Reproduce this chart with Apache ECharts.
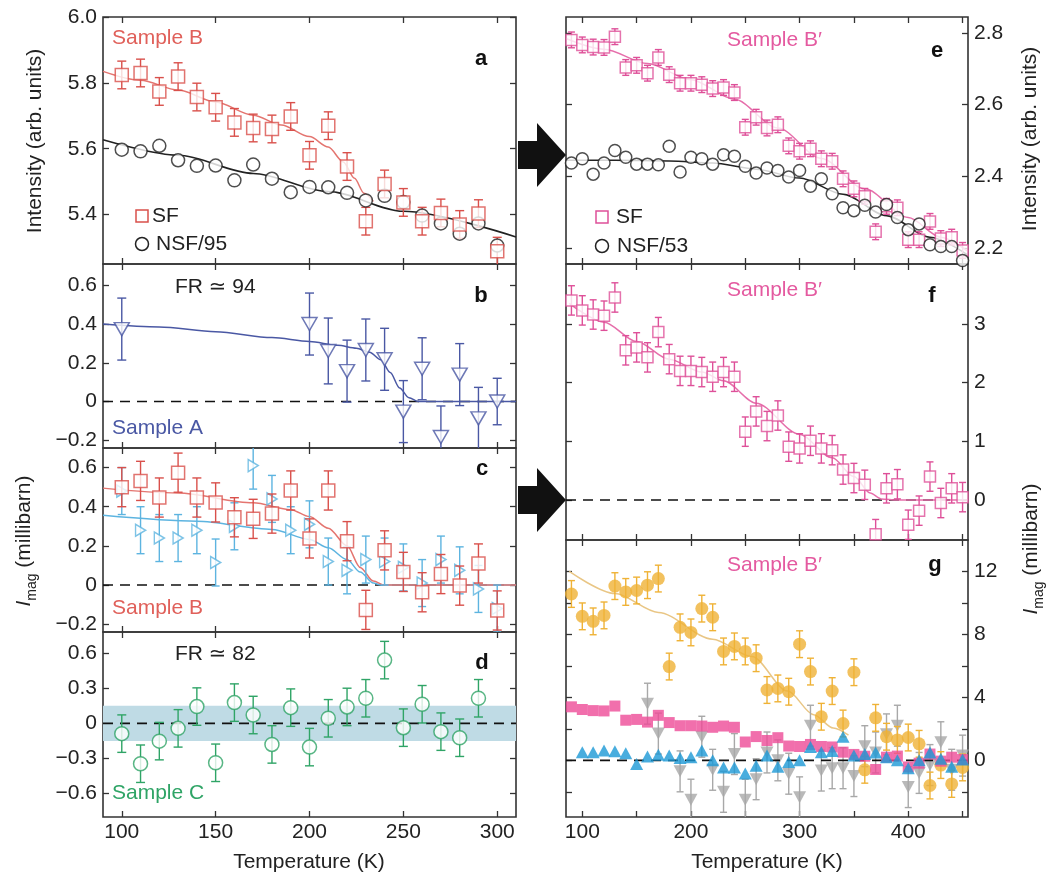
<!DOCTYPE html>
<html><head><meta charset="utf-8">
<script src="https://cdn.jsdelivr.net/npm/echarts@6/dist/echarts.min.js"></script>
<style>html,body{margin:0;padding:0;background:#fff}#c{width:1063px;height:877px}</style>
</head><body><div id="c"></div>
<script>
const FONT = '"Liberation Sans", "DejaVu Sans", Arial, sans-serif';

// ---------------- data ----------------
const leftT = [100,110,120,130,140,150,160,170,180,190,200,210,220,230,240,250,260,270,280,290,300];
const aSF  = [5.824,5.83,5.774,5.819,5.757,5.726,5.68,5.663,5.66,5.698,5.58,5.67,5.546,5.38,5.493,5.437,5.38,5.405,5.37,5.403,5.289];
const aNSF = [5.597,5.592,5.609,5.565,5.548,5.549,5.504,5.552,5.509,5.468,5.484,5.483,5.466,5.443,5.457,5.438,5.397,5.373,5.342,5.373,5.306];
const aSFfitT = [90,110,130,150,170,185,200,210,218,224,229,234];
const aSFfit  = [5.835,5.808,5.778,5.742,5.702,5.672,5.637,5.605,5.56,5.51,5.465,5.44];
const aNSFfitT = [90,130,170,210,250,310];
const aNSFfit  = [5.627,5.58,5.525,5.47,5.41,5.332];

const bT = [100,200,210,220,230,240,250,260,270,280,290,300];
const bA = [0.374,0.40,0.261,0.157,0.266,0.218,-0.052,0.169,-0.183,0.139,-0.087,0.0];
const bErr = [0.16,0.16,0.17,0.16,0.16,0.16,0.16,0.16,0.16,0.16,0.16,0.12];
const bFitT = [90,120,150,180,200,215,225,232,238,243,248,253,258,310];
const bFit  = [0.40,0.385,0.36,0.33,0.31,0.29,0.275,0.255,0.215,0.15,0.07,0.02,0,0];

const cB    = [0.50,0.532,0.447,0.574,0.447,0.422,0.346,0.338,0.365,0.483,0.238,0.483,0.224,-0.127,0.177,0.067,-0.037,0.056,-0.003,0.11,-0.13];
const cBlue = [0.48,0.28,0.24,0.24,0.28,0.115,0.30,0.61,0.44,0.28,0.31,0.12,0.075,0.13,0.12,0.09,0.01,0.13,0.075,-0.02,-0.12];
const cBfitT = [90,130,170,190,200,210,220,227,234,240,310];
const cBfit  = [0.495,0.47,0.42,0.385,0.35,0.29,0.2,0.09,0.02,0,0];
const cBlueFitT = [90,140,180,200,210,220,227,234,238,310];
const cBlueFit  = [0.356,0.326,0.284,0.233,0.19,0.13,0.066,0.01,0,0];

const dT = [100,110,120,130,140,150,160,170,180,190,200,210,220,230,240,250,260,270,280,290];
const dC = [-0.088,-0.345,-0.152,-0.043,0.143,-0.337,0.177,0.071,-0.18,0.134,-0.203,0.043,0.14,0.214,0.54,-0.037,0.163,-0.071,-0.123,0.214];
const dBand = [-0.15, 0.15];

const rightT = [90,100,110,120,130,140,150,160,170,180,190,200,210,220,230,240,250,260,270,280,290,300,310,320,330,340,350,360,370,380,390,400,410,420,430,440,450];
const eSF  = [2.781,2.767,2.761,2.76,2.79,2.704,2.71,2.688,2.732,2.684,2.66,2.66,2.656,2.645,2.648,2.634,2.537,2.565,2.535,2.544,2.485,2.47,2.477,2.449,2.442,2.393,2.365,2.344,2.245,2.316,2.312,2.223,2.223,2.274,2.226,2.23,2.193];
const eNSF = [2.437,2.449,2.406,2.437,2.472,2.453,2.434,2.434,2.432,2.484,2.412,2.453,2.449,2.434,2.46,2.456,2.428,2.409,2.423,2.416,2.398,2.416,2.372,2.393,2.351,2.312,2.304,2.319,2.3,2.321,2.285,2.251,2.267,2.209,2.204,2.204,2.165];
const eSFfitT = [85,120,160,200,240,280,320,360,400,430,455];
const eSFfit  = [2.785,2.755,2.715,2.67,2.615,2.535,2.45,2.365,2.285,2.23,2.19];
const eNSFfitT = [85,130,180,220,260,300,340,380,420,455];
const eNSFfit  = [2.445,2.445,2.443,2.437,2.42,2.395,2.35,2.29,2.23,2.18];

const fSF = [3.40,3.23,3.16,3.14,3.45,2.55,2.60,2.43,2.86,2.40,2.20,2.20,2.18,2.10,2.18,2.10,1.165,1.51,1.26,1.44,0.91,0.88,1.01,0.88,0.85,0.52,0.375,0.26,-0.58,0.20,0.27,-0.42,-0.18,0.40,-0.05,0.20,0.05];
const fFitT = [88,120,150,180,210,230,260,300,330,350,365,375,390,455];
const fFit  = [3.35,3.03,2.7,2.4,2.18,2.03,1.65,1.12,0.72,0.4,0.12,0.02,0,0];

const gYellow = [10.57,9.15,8.83,9.21,11.07,10.7,10.79,11.13,11.55,5.96,8.45,8.13,9.64,9.09,6.92,7.24,6.92,6.49,4.47,4.57,4.36,7.38,5.64,2.77,4.4,2.34,5.6,-0.6,2.7,1.5,1.3,1.45,1.05,-1.6,-0.3,-1.5,-0.45];
const gBlue = [null,0.51,0.51,0.62,0.57,0.45,-0.23,0.24,0.36,0.3,0.15,0.19,0.62,0.0,-0.45,-0.45,-0.83,-0.34,0.3,-0.4,-0.1,0.0,0.85,0.52,0.6,1.5,0.3,0.4,0.5,0.2,0.0,-0.5,0.0,0.5,0.1,-0.4,0.05];
const gGrey = [null,null,null,null,null,null,null,3.6,1.7,null,-0.7,-2.5,1.5,-0.6,-2.0,0.4,-2.5,-1.2,0.5,0.0,-0.85,-2.35,2.2,-0.65,-0.5,-0.5,-1.0,0.9,0.5,1.65,2.2,-1.7,-0.8,-0.3,1.15,-0.6,0.3];
const gYellowFitT = [88,130,170,220,256,289,313,331,345];
const gYellowFit  = [12.0,10.6,9.4,7.7,6.6,4.4,2.9,2.05,1.6];

const leftXTicks = [100,150,200,250,300];
const rightXTicks = [100,150,200,250,300,350,400,450];
const rightXLabels = [100,200,300,400];
const aYTicks = [5.4,5.6,5.8,6.0];
const bcYTicks = [-0.2,0,0.2,0.4,0.6];
const dYTicks = [-0.6,-0.3,0,0.3,0.6];
const eYTicks = [2.2,2.4,2.6,2.8];
const fYTicks = [0,1,2,3];
const gYTicks = [-2,0,2,4,6,8,10,12];
const gYLabels = [0,4,8,12];

// ---------------- colors ----------------
const RED='#d9504b', RED_T='#e0605a', RED_FIT='#e47570';
const BLUEA='#4a58a4';
const LBLUE='#5db4e0';
const GREEN='#2fa466';
const PINK='#de5099', PINK_T='#e45aa0', PINK_FIT='#e66fab';
const YEL='#efb236', YEL_FIT='#e9c685';
const PINKF='#ee4b97';
const CYAN='#1b99d6';
const GREY='#a8a8a8';
const AX='#333';

// ---------------- layout ----------------
const grids = [
  {left:103, top:17,  width:413, height:247},
  {left:103, top:264, width:413, height:184},
  {left:103, top:448, width:413, height:184},
  {left:103, top:632, width:413, height:185},
  {left:566, top:17,  width:402, height:247},
  {left:566, top:264, width:402, height:276},
  {left:566, top:540, width:402, height:277}
].map(g => Object.assign({show:true, borderColor:AX, borderWidth:1.6, backgroundColor:'transparent', containLabel:false}, g));

function fmt(dec){ return v => { if (Math.abs(v) < 1e-9) return '0'; return (v<0?'\u2212':'') + Math.abs(v).toFixed(dec); }; }
const specs = [
  {x:[90,310], xt:leftXTicks, xl:null, y:[5.25,6.0], yt:aYTicks, yl:aYTicks, side:'left', f:fmt(1)},
  {x:[90,310], xt:leftXTicks, xl:null, y:[-0.24,0.71], yt:bcYTicks, yl:bcYTicks, side:'left', f:fmt(1)},
  {x:[90,310], xt:leftXTicks, xl:null, y:[-0.24,0.70], yt:bcYTicks, yl:bcYTicks, side:'left', f:fmt(1)},
  {x:[90,310], xt:leftXTicks, xl:leftXTicks, y:[-0.8,0.78], yt:dYTicks, yl:dYTicks, side:'left', f:fmt(1)},
  {x:[85,455], xt:rightXTicks, xl:null, y:[2.155,2.845], yt:eYTicks, yl:eYTicks, side:'right', f:fmt(1)},
  {x:[85,455], xt:rightXTicks, xl:null, y:[-0.68,4.02], yt:fYTicks, yl:fYTicks, side:'right', f:fmt(0)},
  {x:[85,455], xt:rightXTicks, xl:rightXLabels, y:[-3.6,14.0], yt:gYTicks, yl:gYLabels, side:'right', f:fmt(0)}
];
const tickStyle = {show:true, inside:true, length:6, lineStyle:{color:AX, width:1.3}};
const labStyle = {fontSize:21, color:'#222', fontFamily:FONT};
const xAxis=[], yAxis=[];
specs.forEach((s,gi)=>{
  ['bottom','top'].forEach(pos=>{
    const lab = (pos==='bottom' && s.xl) ? Object.assign({show:true, customValues:s.xl, margin:5, formatter:v=>String(v)}, labStyle) : {show:false};
    xAxis.push({type:'value', gridIndex:gi, position:pos, min:s.x[0], max:s.x[1], splitLine:{show:false}, axisLine:{show:false, onZero:false},
      axisTick:Object.assign({customValues:s.xt}, tickStyle), axisLabel:lab});
  });
  ['left','right'].forEach(pos=>{
    const lab = (pos===s.side) ? Object.assign({show:true, customValues:s.yl, margin:6, formatter:s.f}, labStyle) : {show:false};
    yAxis.push({type:'value', gridIndex:gi, position:pos, min:s.y[0], max:s.y[1], splitLine:{show:false}, axisLine:{show:false, onZero:false},
      axisTick:Object.assign({customValues:s.yt}, tickStyle), axisLabel:lab});
  });
});

// ---------------- series helpers ----------------
function pairs(xs, ys){ const d=[]; xs.forEach((x,i)=>{ if(ys[i]!=null) d.push([x,ys[i]]); }); return d; }
function sc(gi, xs, ys, o){ return Object.assign({type:'scatter', xAxisIndex:2*gi, yAxisIndex:2*gi, data:pairs(xs,ys), silent:true, clip:true}, o); }
function ln(gi, xs, ys, color, w, o){ return Object.assign({type:'line', xAxisIndex:2*gi, yAxisIndex:2*gi, data:pairs(xs,ys), showSymbol:false, symbol:'none', smooth:0.3, smoothMonotone:'x', silent:true, clip:true, lineStyle:{color, width:w}, z:2}, o); }
function err(gi, xs, ys, es, color, cap, z){
  const data=[]; xs.forEach((x,i)=>{ if(ys[i]!=null) data.push([x, ys[i], Array.isArray(es)?es[i]:es]); });
  return {type:'custom', xAxisIndex:2*gi, yAxisIndex:2*gi, clip:true, silent:true, z:z||3, data, encode:{x:0,y:1},
    renderItem:(p, api)=>{
      const x=api.value(0), y=api.value(1), e=api.value(2);
      const a=api.coord([x,y+e]), b=api.coord([x,y-e]);
      const st={stroke:color, lineWidth:1.4, fill:null};
      return {type:'group', children:[
        {type:'line', shape:{x1:a[0],y1:a[1],x2:b[0],y2:b[1]}, style:st},
        {type:'line', shape:{x1:a[0]-cap,y1:a[1],x2:a[0]+cap,y2:a[1]}, style:st},
        {type:'line', shape:{x1:b[0]-cap,y1:b[1],x2:b[0]+cap,y2:b[1]}, style:st}]};
    }};
}
function zero(gi, xr, extra){ return Object.assign({type:'line', xAxisIndex:2*gi, yAxisIndex:2*gi, data:[[xr[0],0],[xr[1],0]], showSymbol:false, symbol:'none', silent:true, lineStyle:{color:'#111', width:1.6, type:[10,7]}, z:1}, extra||{}); }
const hollow = c => ({color:'#fff', borderColor:c, borderWidth:1.5});
const filled = c => ({color:c, borderColor:c, borderWidth:0});

const series = [
  // a
  ln(0, aNSFfitT, aNSFfit, '#222', 1.6),
  ln(0, aSFfitT, aSFfit, RED_FIT, 1.5),
  err(0, leftT, aSF, 0.042, RED, 4.5),
  sc(0, leftT, aNSF, {symbol:'circle', symbolSize:13, itemStyle:hollow('#222'), z:5}),
  sc(0, leftT, aSF, {symbol:'rect', symbolSize:13, itemStyle:hollow(RED), z:6}),
  // b
  zero(1, [90,310]),
  ln(1, bFitT, bFit, BLUEA, 1.5),
  err(1, bT, bA, bErr, BLUEA, 4.5),
  sc(1, bT, bA, {symbol:'triangle', symbolRotate:180, symbolSize:[15,13], itemStyle:hollow(BLUEA), z:5}),
  // c
  zero(2, [90,310]),
  ln(2, cBlueFitT, cBlueFit, LBLUE, 1.5),
  ln(2, cBfitT, cBfit, RED_FIT, 1.5),
  err(2, leftT, cBlue, 0.12, LBLUE, 4),
  sc(2, leftT, cBlue, {symbol:'triangle', symbolRotate:-90, symbolSize:[12,10], itemStyle:hollow(LBLUE), z:5}),
  err(2, leftT, cB, 0.1, RED, 4.5, 6),
  sc(2, leftT, cB, {symbol:'rect', symbolSize:13, itemStyle:hollow(RED), z:7}),
  // d
  zero(3, [90,310], {markArea:{silent:true, itemStyle:{color:'#bfdbe5'}, data:[[{yAxis:dBand[0]},{yAxis:dBand[1]}]]}}),
  err(3, dT, dC, 0.16, GREEN, 4.5),
  sc(3, dT, dC, {symbol:'circle', symbolSize:14, itemStyle:hollow(GREEN), z:5}),
  // e
  ln(4, eNSFfitT, eNSFfit, '#222', 1.5),
  ln(4, eSFfitT, eSFfit, PINK_FIT, 1.5),
  err(4, rightT, eSF, 0.022, PINK, 3.5),
  sc(4, rightT, eSF, {symbol:'rect', symbolSize:11, itemStyle:hollow(PINK), z:5}),
  sc(4, rightT, eNSF, {symbol:'circle', symbolSize:12, itemStyle:hollow('#222'), z:6}),
  // f
  zero(5, [85,455]),
  ln(5, fFitT, fFit, PINK_FIT, 1.5),
  err(5, rightT, fSF, 0.25, PINK, 3.5),
  sc(5, rightT, fSF, {symbol:'rect', symbolSize:11, itemStyle:hollow(PINK), z:5}),
  // g
  zero(6, [85,455], {z:4}),
  ln(6, gYellowFitT, gYellowFit, YEL_FIT, 1.5),
  err(6, rightT, gGrey, 1.3, GREY, 3.5, 3),
  sc(6, rightT, gGrey, {symbol:'triangle', symbolRotate:180, symbolSize:[13,12], itemStyle:filled(GREY), z:3}),
  err(6, rightT, gYellow, 0.85, YEL, 3.5, 5),
  sc(6, rightT, gYellow, {symbol:'circle', symbolSize:13, itemStyle:filled(YEL), z:5}),
  sc(6, rightT, fSF, {symbol:'rect', symbolSize:11, itemStyle:filled(PINKF), z:6}),
  sc(6, rightT, gBlue, {symbol:'triangle', symbolSize:[13,12], itemStyle:filled(CYAN), z:7})
];

// ---------------- annotations ----------------
function txt(text, x, y, color, o){
  return {type:'text', x, y, z:100, silent:true, style:Object.assign({text, fill:color, fontSize:21, fontFamily:FONT,
    align:'left', verticalAlign:'middle', textAlign:'left', textVerticalAlign:'middle'}, o||{})};
}
function bold(text, x, y){ return txt(text, x, y, '#111', {fontWeight:'bold', fontSize:22, align:'center', textAlign:'center'}); }
function vtxt(text, x, y, rich){
  return {type:'text', x, y, rotation:Math.PI/2, z:100, silent:true, style:Object.assign({text, fill:'#222', fontSize:21, fontFamily:FONT,
    align:'center', verticalAlign:'middle', textAlign:'center', textVerticalAlign:'middle'}, rich?{rich}:{})};
}
const imagRich = {
  i:{fontStyle:'italic', fontSize:21, fontFamily:FONT, lineHeight:30, verticalAlign:'middle', fill:'#222'},
  s:{fontSize:14, fontFamily:FONT, lineHeight:14, verticalAlign:'bottom', fill:'#222'},
  t:{fontSize:21, fontFamily:FONT, lineHeight:30, verticalAlign:'middle', fill:'#222'}
};
const elements = [
  // arrows
  {type:'polygon', z:50, silent:true, shape:{points:[[518,141],[537,141],[537,123],[566,155],[537,187],[537,169],[518,169]]}, style:{fill:'#111'}},
  {type:'polygon', z:50, silent:true, shape:{points:[[518,486],[537,486],[537,468],[566,500],[537,532],[537,514],[518,514]]}, style:{fill:'#111'}},
  // panel texts
  txt('Sample B', 112, 38, RED_T),
  bold('a', 481, 59),
  txt('SF', 152, 216, '#222'),
  txt('NSF/95', 156, 244, '#222'),
  {type:'rect', z:100, silent:true, shape:{x:136, y:210, width:12, height:12}, style:{fill:'#fff', stroke:RED, lineWidth:1.5}},
  {type:'circle', z:100, silent:true, shape:{cx:142, cy:244, r:6.5}, style:{fill:'#fff', stroke:'#222', lineWidth:1.5}},
  txt('FR \u2243 94', 175, 287, '#222'),
  bold('b', 481, 296),
  txt('Sample A', 112, 428, BLUEA),
  bold('c', 482, 469),
  txt('Sample B', 112, 608, RED_T),
  txt('FR \u2243 82', 175, 654, '#222'),
  bold('d', 482, 663),
  txt('Sample C', 112, 793, GREEN),
  txt('Sample B\u2032', 727, 40, PINK_T),
  bold('e', 937, 51),
  txt('SF', 616, 217, '#222'),
  txt('NSF/53', 617, 246, '#222'),
  {type:'rect', z:100, silent:true, shape:{x:596, y:211, width:12, height:12}, style:{fill:'#fff', stroke:PINK, lineWidth:1.5}},
  {type:'circle', z:100, silent:true, shape:{cx:602, cy:246, r:6.5}, style:{fill:'#fff', stroke:'#222', lineWidth:1.5}},
  txt('Sample B\u2032', 727, 290, PINK_T),
  bold('f', 932, 296),
  txt('Sample B\u2032', 727, 565, PINK_T),
  bold('g', 935, 565),
  // axis titles
  vtxt('Intensity (arb. units)', 35, 141),
  vtxt('{i|I}{s|mag}{t| (millibarn)}', 24, 541, imagRich),
  vtxt('Intensity (arb. units)', 1030, 139),
  vtxt('{i|I}{s|mag}{t| (millibarn)}', 1031, 549, imagRich),
  txt('Temperature (K)', 309, 862, '#222', {align:'center', textAlign:'center'}),
  txt('Temperature (K)', 767, 862, '#222', {align:'center', textAlign:'center'})
];

const chart = echarts.init(document.getElementById('c'), null, {renderer:'canvas'});
chart.setOption({
  animation:false,
  backgroundColor:'#fff',
  grid:grids, xAxis, yAxis, series,
  graphic:{elements}
});
</script></body></html>
